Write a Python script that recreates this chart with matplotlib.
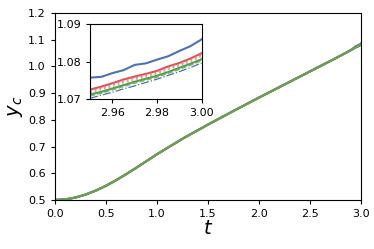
import matplotlib
matplotlib.use("Agg")
import matplotlib.pyplot as plt
import numpy as np

# main (coarse) common trajectory, t < 2.95
t_main = [0.0, 0.1, 0.2, 0.3, 0.4, 0.5, 0.6, 0.7, 0.8, 0.9, 1.0, 1.25, 1.5, 1.75,
          2.0, 2.25, 2.5, 2.75, 2.9]
yc_main = [0.500, 0.502, 0.509, 0.520, 0.535, 0.553, 0.574, 0.597, 0.621, 0.646,
           0.671, 0.729, 0.782, 0.833, 0.883, 0.932, 0.981, 1.030, 1.0605]

# zoomed window values
t_zoom = [2.95, 2.955, 2.96, 2.965, 2.97, 2.975, 2.98, 2.985, 2.99, 2.995, 3.00]
blue_solid = [1.0758, 1.0760, 1.0770, 1.0778, 1.0792, 1.0796, 1.0806, 1.0815, 1.0829, 1.0842, 1.0860]
red_solid  = [1.0726, 1.0734, 1.0743, 1.0753, 1.0761, 1.0768, 1.0776, 1.0788, 1.0797, 1.0809, 1.0823]
red_dot1   = [1.0722, 1.0730, 1.0739, 1.0749, 1.0757, 1.0764, 1.0772, 1.0784, 1.0793, 1.0805, 1.0819]
red_dot2   = [1.0718, 1.0726, 1.0735, 1.0745, 1.0753, 1.0760, 1.0768, 1.0780, 1.0789, 1.0801, 1.0815]
green_solid= [1.0713, 1.0720, 1.0729, 1.0738, 1.0747, 1.0755, 1.0763, 1.0773, 1.0784, 1.0795, 1.0807]
green_dash = [1.0709, 1.0716, 1.0725, 1.0734, 1.0743, 1.0751, 1.0759, 1.0769, 1.0780, 1.0791, 1.0803]
blue_dashdot=[1.0703, 1.0711, 1.0719, 1.0728, 1.0736, 1.0745, 1.0754, 1.0764, 1.0774, 1.0785, 1.0797]

series = [
    (blue_solid, '#4C72B0', '-', 1.5),
    (red_solid, '#E0525A', '-', 1.5),
    (red_dot1, '#F08080', ':', 1.3),
    (red_dot2, '#E8A0A0', ':', 1.3),
    (blue_dashdot, '#4C72B0', '-.', 0.9),
    (green_dash, '#7DBE6E', '--', 1.0),
    (green_solid, '#55A050', '-', 1.5),
]

fig = plt.figure(figsize=(3.74, 2.49), dpi=100)
ax = fig.add_axes([0.147, 0.197, 0.818, 0.751])
ins = fig.add_axes([0.241, 0.601, 0.298, 0.301])

for vals, c, ls, lw in series:
    t_all = t_main + t_zoom
    y_all = yc_main + vals
    ax.plot(t_all, y_all, color=c, ls=ls, lw=lw)
    ins.plot(t_zoom, vals, color=c, ls=ls, lw=lw)

# main curve color on top
ax.plot(t_main + t_zoom, yc_main + green_solid, color='#6A9F55', lw=1.6)

ax.set_xlim(0, 3.0)
ax.set_ylim(0.5, 1.2)
ax.set_xticks([0.0, 0.5, 1.0, 1.5, 2.0, 2.5, 3.0])
ax.set_yticks([0.5, 0.6, 0.7, 0.8, 0.9, 1.0, 1.1, 1.2])
ax.tick_params(labelsize=8, length=3, width=0.8)
ax.set_xlabel('$t$', fontsize=14, labelpad=0)
ax.set_ylabel('$y_c$', fontsize=14, labelpad=2)

ins.set_xlim(2.95, 3.00)
ins.set_ylim(1.07, 1.09)
ins.set_xticks([2.96, 2.98, 3.00])
ins.set_xticklabels(['2.96', '2.98', '3.00'])
ins.set_yticks([1.07, 1.08, 1.09])
ins.tick_params(labelsize=8, length=3, width=0.8)

fig.savefig('out.png', dpi=100)
